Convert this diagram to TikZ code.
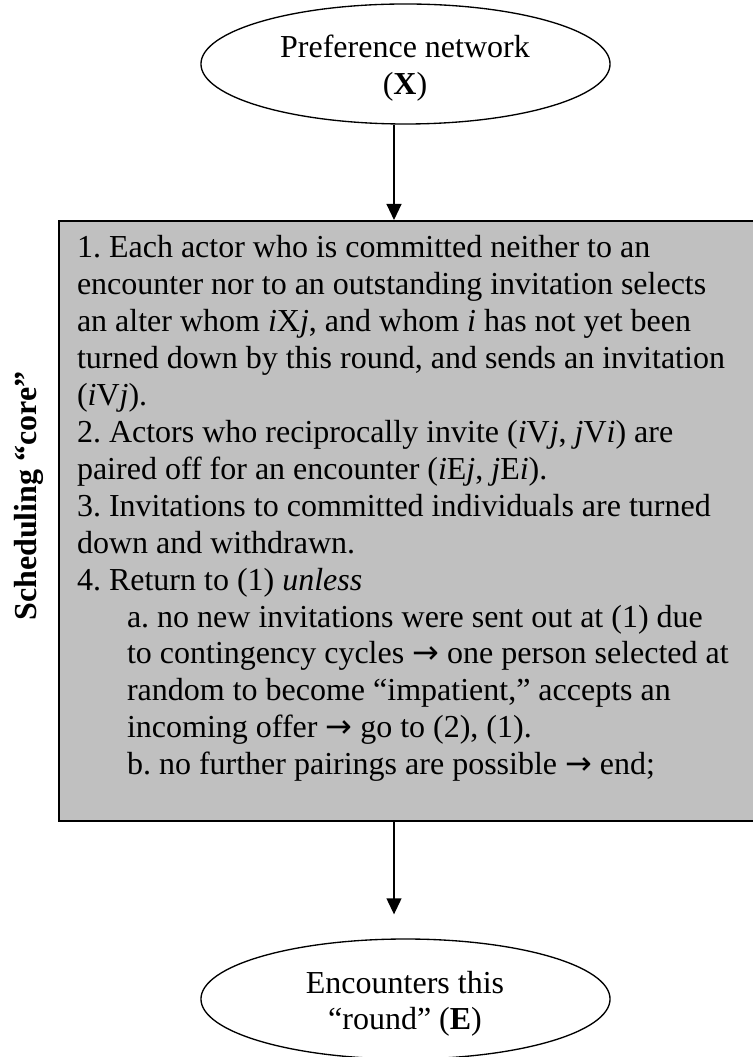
\documentclass[tikz,border=0pt]{standalone}
\usepackage{fontspec}
\setmainfont{Liberation Serif}
\newfontfamily\arrowfont{DejaVu Sans}
\usetikzlibrary{arrows.meta,shapes.geometric}
\definecolor{boxgray}{HTML}{C0C0C0}
\newcommand\myarrow{{\arrowfont →}}
\frenchspacing
\begin{document}
\begin{tikzpicture}[x=0.375pt,y=-0.375pt,
  bodyfont/.style={font=\fontsize{12}{13.84}\selectfont},
  oval/.style={draw,line width=0.5pt,ellipse,inner sep=0pt,minimum width=153.4pt,minimum height=45pt},
  stepsbox/.style={draw,line width=0.75pt,fill=boxgray,inner sep=0pt,minimum width=261.75pt,minimum height=225pt,anchor=north west},
  conn/.style={line width=0.5pt,-{Triangle[length=6pt,width=5.6pt]}}]
\useasboundingbox (0,0) rectangle (752,1057);
% top ellipse
\node[oval] (topE) at (405.5,64) {};
\node[bodyfont,anchor=base,inner sep=0pt] (topT) at (405,58)
  {\vtop{\baselineskip=13.84pt\lineskiplimit=-100pt\halign{\hfil#\hfil\cr Preference network\cr (\textbf{X})\cr}}};
% main box
\node[stepsbox] (box) at (58,220) {};
\node[bodyfont,anchor=base west,inner sep=0pt] (steps) at (76.5,258)
  {\vtop{\baselineskip=13.84pt\lineskiplimit=-100pt
   \hbox{1. Each actor who is committed neither to an}
   \hbox{encounter nor to an outstanding invitation selects}
   \hbox{an alter whom \textit{i}X\textit{j}, and whom \textit{i} has not yet been}
   \hbox{turned down by this round, and sends an invitation}
   \hbox{(\textit{i}V\textit{j}).}
   \hbox{2. Actors who reciprocally invite (\textit{i}V\textit{j}, \textit{j}V\textit{i}) are}
   \hbox{paired off for an encounter (\textit{i}E\textit{j}, \textit{j}E\textit{i}).}
   \hbox{3. Invitations to committed individuals are turned}
   \hbox{down and withdrawn.}
   \hbox{4. Return to (1) \textit{unless}}
   \hbox{\kern18.75pt a. no new invitations were sent out at (1) due}
   \hbox{\kern18.75pt to contingency cycles \myarrow{} one person selected at}
   \hbox{\kern18.75pt random to become “impatient,” accepts an}
   \hbox{\kern18.75pt incoming offer \myarrow{} go to (2), (1).}
   \hbox{\kern18.75pt b. no further pairings are possible \myarrow{} end;}
  }};
% side label
\node[rotate=90,anchor=base,inner sep=0pt,font=\bfseries\fontsize{12}{14}\selectfont] (lab) at (37,496) {Scheduling “core”};
% bottom ellipse
\node[oval] (botE) at (405.5,999) {};
\node[bodyfont,anchor=base,inner sep=0pt] (botT) at (405,993)
  {\vtop{\baselineskip=13.84pt\lineskiplimit=-100pt\halign{\hfil#\hfil\cr Encounters this\cr “round” (\textbf{E})\cr}}};
% connectors
\coordinate (ax) at (394,0);
\draw[conn] (topE.south -| ax) -- (box.north -| ax);
\draw[conn,shorten >=9pt] (box.south -| ax) -- (botE.north -| ax);
\end{tikzpicture}
\end{document}
